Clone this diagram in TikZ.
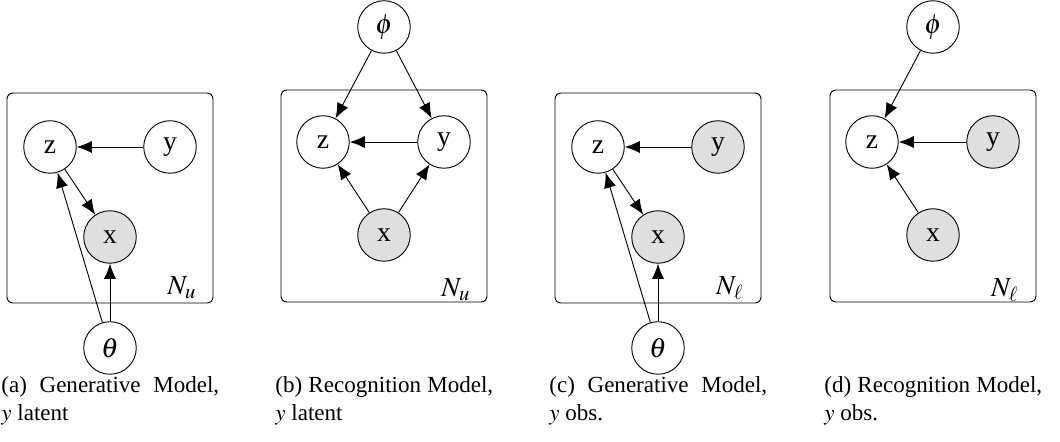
\documentclass[tikz,border=0pt]{standalone}
\usepackage{mathptmx}
\usepackage[no-math]{fontspec}
\setmainfont{Liberation Serif}
\usetikzlibrary{arrows.meta}
\tikzset{
  latent/.style={circle, draw, minimum size=22.8pt, inner sep=0pt, font=\large},
  obs/.style={latent, fill=gray!25},
  plate/.style={draw, rounded corners=2.6pt},
  edge/.style={-{Latex[length=6.6pt,width=5.3pt]}},
  capt/.style={anchor=north west, inner sep=0pt, text width=94.5pt, align=justify},
}

\begin{document}
\begin{tikzpicture}[x=0.434pt, y=0.434pt]
\useasboundingbox (0,0) rectangle (1060,442);

% (a) generative, y latent
\begin{scope}[xshift=110*0.434pt]
\draw[plate] (-103,139) rectangle (103,349);
\node[latent] (za) at (-60,295) {z};
\node[latent] (ya) at (60,295) {y};
\node[obs] (xa) at (0,205) {x};
\node[latent] (thetaa) at (0,94) {$\theta$};
\node[font=\large] (Na) at (72,154) {$N_u$};
\draw[edge] (ya) -- (za);
\draw[edge] (za) -- (xa);
\draw[edge] (thetaa) -- (xa);
\draw[edge] (thetaa) -- (za);
\node[capt] (capa) at (-109,66) {(a) Generative Model,\linebreak $y$ latent};
\end{scope}

% (b) recognition, y latent
\begin{scope}[xshift=384*0.434pt]
\draw[plate] (-103,140) rectangle (103,352);
\node[latent] (phib) at (0,415) {$\phi$};
\node[latent] (zb) at (-61,300) {z};
\node[latent] (yb) at (60,300) {y};
\node[obs] (xb) at (0,207) {x};
\node[font=\large] (Nb) at (72,152) {$N_u$};
\draw[edge] (phib) -- (zb);
\draw[edge] (phib) -- (yb);
\draw[edge] (yb) -- (zb);
\draw[edge] (xb) -- (zb);
\draw[edge] (xb) -- (yb);
\node[capt] (capb) at (-109,66) {(b) Recognition Model,\linebreak $y$ latent};
\end{scope}

% (c) generative, y observed
\begin{scope}[xshift=658*0.434pt]
\draw[plate] (-103,139) rectangle (103,349);
\node[latent] (zc) at (-60,295) {z};
\node[obs] (yc) at (60,295) {y};
\node[obs] (xc) at (0,205) {x};
\node[latent] (thetac) at (0,94) {$\theta$};
\node[font=\large] (Nc) at (72,154) {$N_\ell$};
\draw[edge] (yc) -- (zc);
\draw[edge] (zc) -- (xc);
\draw[edge] (thetac) -- (xc);
\draw[edge] (thetac) -- (zc);
\node[capt] (capc) at (-109,66) {(c) Generative Model,\linebreak $y$ obs.};
\end{scope}

% (d) recognition, y observed
\begin{scope}[xshift=933*0.434pt]
\draw[plate] (-103,140) rectangle (103,352);
\node[latent] (phid) at (0,415) {$\phi$};
\node[latent] (zd) at (-61,300) {z};
\node[obs] (yd) at (60,300) {y};
\node[obs] (xd) at (0,207) {x};
\node[font=\large] (Nd) at (72,152) {$N_\ell$};
\draw[edge] (phid) -- (zd);
\draw[edge] (yd) -- (zd);
\draw[edge] (xd) -- (zd);
\node[capt] (capd) at (-109,66) {(d) Recognition Model,\linebreak $y$ obs.};
\end{scope}
\end{tikzpicture}
\end{document}
